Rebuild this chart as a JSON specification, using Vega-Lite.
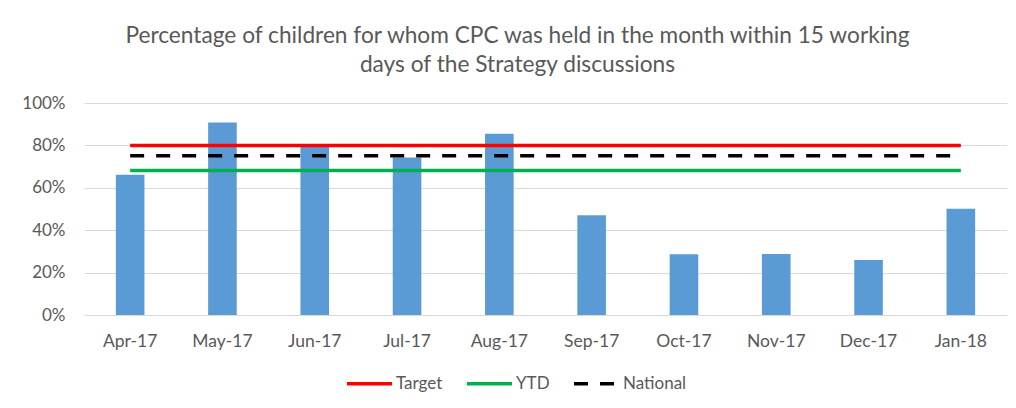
{
  "$schema": "https://vega.github.io/schema/vega-lite/v6.json",
  "width": 923,
  "height": 212,
  "autosize": {"type": "none"},
  "padding": {"left": 84, "top": 103, "right": 9, "bottom": 93},
  "background": "#ffffff",
  "title": {
    "text": ["Percentage of children for whom CPC was held in the month within 15 working", "days of the Strategy discussions"],
    "anchor": "middle",
    "frame": "group",
    "dx": -28,
    "offset": 17,
    "font": "Lato",
    "fontSize": 22.7,
    "fontWeight": "normal",
    "color": "#595959",
    "lineHeight": 29
  },
  "datasets": {
    "bars": [
      {"month": "Apr-17", "pct": 0.661},
      {"month": "May-17", "pct": 0.908},
      {"month": "Jun-17", "pct": 0.80},
      {"month": "Jul-17", "pct": 0.743},
      {"month": "Aug-17", "pct": 0.855},
      {"month": "Sep-17", "pct": 0.471},
      {"month": "Oct-17", "pct": 0.287},
      {"month": "Nov-17", "pct": 0.288},
      {"month": "Dec-17", "pct": 0.260},
      {"month": "Jan-18", "pct": 0.501}
    ],
    "lines": [
      {"month": "Apr-17", "series": "Target", "value": 0.80},
      {"month": "Jan-18", "series": "Target", "value": 0.80},
      {"month": "Apr-17", "series": "YTD", "value": 0.682},
      {"month": "Jan-18", "series": "YTD", "value": 0.682},
      {"month": "Apr-17", "series": "National", "value": 0.751},
      {"month": "Jan-18", "series": "National", "value": 0.751}
    ]
  },
  "layer": [
    {
      "data": {"name": "bars"},
      "mark": {"type": "bar", "color": "#5b9bd5", "width": {"band": 0.31}},
      "encoding": {
        "x": {
          "field": "month",
          "type": "nominal",
          "scale": {
            "domain": ["Apr-17", "May-17", "Jun-17", "Jul-17", "Aug-17", "Sep-17", "Oct-17", "Nov-17", "Dec-17", "Jan-18"],
            "paddingInner": 0,
            "paddingOuter": 0
          },
          "axis": {
            "title": null,
            "labelAngle": 0,
            "domain": false,
            "ticks": false,
            "labelPadding": 17,
            "labelFont": "Lato",
            "labelFontSize": 17.5,
            "labelColor": "#595959"
          }
        },
        "y": {
          "field": "pct",
          "type": "quantitative",
          "scale": {"domain": [0, 1]},
          "axis": {
            "title": null,
            "format": ".0%",
            "values": [0, 0.2, 0.4, 0.6, 0.8, 1],
            "domain": false,
            "ticks": false,
            "labelPadding": 19,
            "labelFont": "Lato",
            "labelFontSize": 17,
            "labelColor": "#595959",
            "gridColor": "#d9d9d9",
            "gridWidth": 1
          }
        }
      }
    },
    {
      "data": {"name": "lines"},
      "mark": {"type": "line", "strokeWidth": 3.5, "strokeCap": "butt"},
      "encoding": {
        "x": {"field": "month", "type": "nominal"},
        "y": {"field": "value", "type": "quantitative"},
        "color": {
          "field": "series",
          "type": "nominal",
          "scale": {"domain": ["Target", "YTD", "National"], "range": ["#ff0000", "#00b050", "#000000"]},
          "legend": {"title": null}
        },
        "strokeDash": {
          "field": "series",
          "type": "nominal",
          "scale": {"domain": ["Target", "YTD", "National"], "range": [[1, 0], [1, 0], [14, 12]]},
          "legend": {"title": null}
        }
      }
    }
  ],
  "config": {
    "view": {"stroke": null},
    "legend": {
      "orient": "none",
      "direction": "horizontal",
      "legendX": 261,
      "legendY": 256,
      "symbolType": "stroke",
      "symbolSize": 2025,
      "symbolStrokeWidth": 3.5,
      "labelFont": "Lato",
      "labelFontSize": 17,
      "labelColor": "#595959",
      "labelOffset": 2,
      "columnPadding": 17
    }
  }
}
